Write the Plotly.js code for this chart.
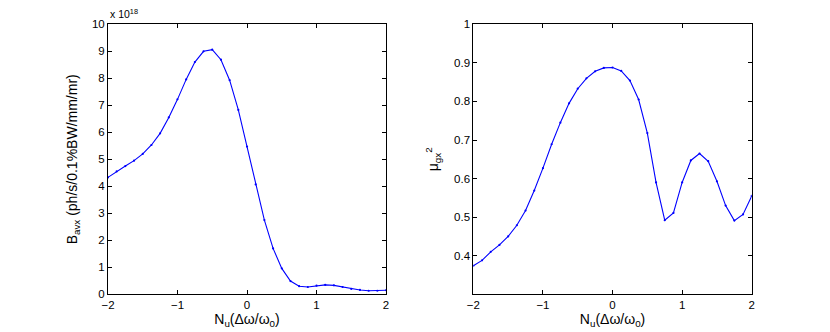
<!DOCTYPE html>
<html>
<head>
<meta charset="utf-8">
<script src="https://cdn.plot.ly/plotly-3.0.1.min.js"></script>
<style>html,body{margin:0;padding:0;background:#fff;}#chart{width:830px;height:332px;}</style>
</head>
<body>
<div id="chart"></div>
<script>
const detuning = [-2,-1.875,-1.75,-1.625,-1.5,-1.375,-1.25,-1.125,-1,-0.875,-0.75,-0.625,-0.5,-0.375,-0.25,-0.125,0,0.125,0.25,0.375,0.5,0.625,0.75,0.875,1,1.125,1.25,1.375,1.5,1.625,1.75,1.875,2];
const brightness = [4.33,4.55,4.75,4.95,5.2,5.53,5.96,6.55,7.22,7.96,8.6,9.0,9.06,8.69,7.93,6.83,5.47,4.07,2.75,1.7,0.96,0.49,0.3,0.27,0.32,0.35,0.33,0.27,0.2,0.16,0.13,0.13,0.15];
const degeneracy = [0.374,0.388,0.41,0.428,0.45,0.479,0.517,0.569,0.627,0.689,0.745,0.795,0.833,0.86,0.878,0.887,0.888,0.879,0.854,0.805,0.718,0.59,0.492,0.511,0.59,0.647,0.665,0.645,0.593,0.53,0.491,0.507,0.555];
const xTicks = [-2,-1,0,1,2];
const xTickText = ['\u22122','\u22121','0','1','2'];
const y1Ticks = [0,1,2,3,4,5,6,7,8,9,10];
const y2Ticks = [0.4,0.5,0.6,0.7,0.8,0.9,1];
const y2TickText = ['0.4','0.5','0.6','0.7','0.8','0.9','1'];

const FONT = 'Liberation Sans, Arial, Helvetica, sans-serif';
const lineStyle = {color:'rgb(0,0,255)', width:1.1};
const markerStyle = {color:'rgb(0,0,255)', size:2.2};

const traces = [
  {x:detuning, y:brightness, xaxis:'x', yaxis:'y', mode:'lines+markers', line:lineStyle, marker:markerStyle},
  {x:detuning, y:degeneracy, xaxis:'x2', yaxis:'y2', mode:'lines+markers', line:lineStyle, marker:markerStyle}
];

const axBase = {
  showline:true, linecolor:'#000', linewidth:1, mirror:'ticks',
  ticks:'inside', ticklen:4, tickcolor:'#000', tickwidth:1,
  showgrid:false, zeroline:false,
  tickfont:{family:FONT, size:11.5, color:'#000'}
};
const xTitle = {text:'N<sub>u</sub>(\u0394\u03c9/\u03c9<sub>0</sub>)', font:{family:FONT, size:14, color:'#000'}, standoff:2};

const layout = {
  width:830, height:332,
  margin:{l:0, r:0, t:0, b:0},
  paper_bgcolor:'#fff', plot_bgcolor:'#fff',
  showlegend:false,
  xaxis:Object.assign({}, axBase, {domain:[0.1301,0.4651], range:[-2,2], tickvals:xTicks, ticktext:xTickText, anchor:'y', title:xTitle}),
  yaxis:Object.assign({}, axBase, {domain:[0.1136,0.9268], range:[0,10], tickvals:y1Ticks, anchor:'x',
    title:{text:'B<sub>avx</sub> (ph/s/0.1%BW/mm/mr)', font:{family:FONT, size:14, color:'#000'}, standoff:10}}),
  xaxis2:Object.assign({}, axBase, {domain:[0.5703,0.9057], range:[-2,2], tickvals:xTicks, ticktext:xTickText, anchor:'y2', title:xTitle}),
  yaxis2:Object.assign({}, axBase, {domain:[0.1136,0.9268], range:[0.3,1], tickvals:y2Ticks, ticktext:y2TickText, anchor:'x2',
    title:{text:'\u03bc<sub>gx</sub><sup>2</sup>', font:{family:FONT, size:14, color:'#000'}, standoff:12}}),
  annotations:[
    {xref:'paper', yref:'paper', x:0.1301, y:0.935, xanchor:'left', yanchor:'bottom', showarrow:false,
     text:'x 10<sup>18</sup>', font:{family:FONT, size:10.5, color:'#000'}}
  ]
};

Plotly.newPlot('chart', traces, layout, {displayModeBar:false});
</script>
</body>
</html>
